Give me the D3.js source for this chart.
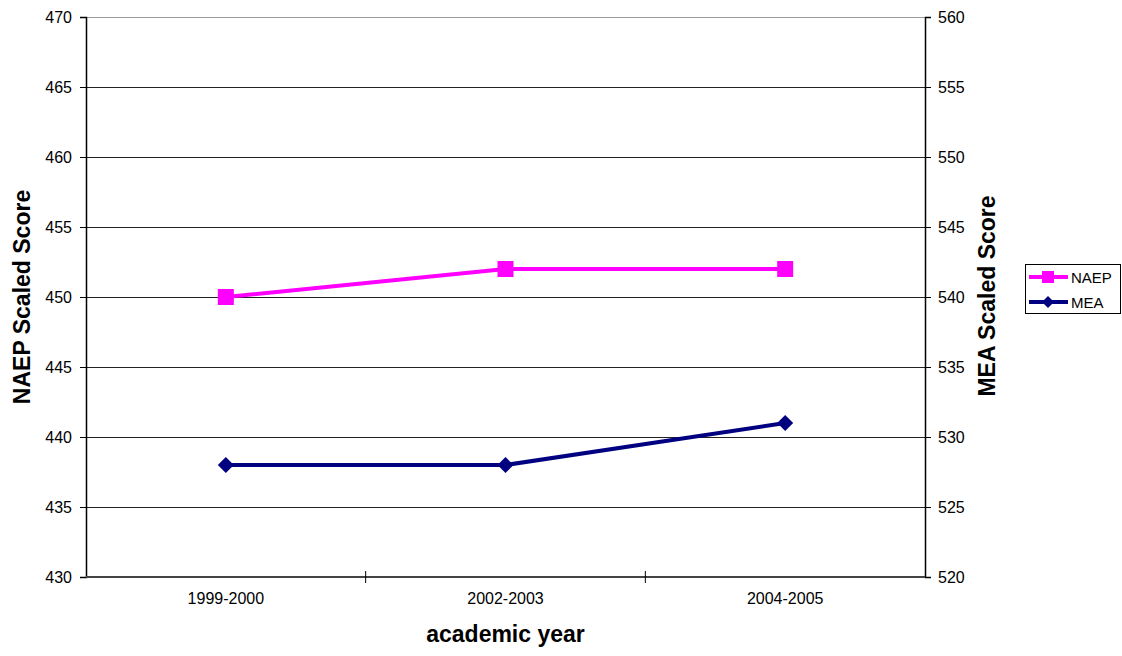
<!DOCTYPE html>
<html><head><meta charset="utf-8">
<script src="https://cdn.jsdelivr.net/npm/d3@7"></script>
<style>body{margin:0;background:#fff}svg{display:block;font-family:"Liberation Sans",Arial,sans-serif}</style>
</head><body>
<svg id="c" width="1122" height="656"></svg>
<script>
const categories = ["1999-2000", "2002-2003", "2004-2005"];
const naep = [450, 452, 452];
const mea = [528, 528, 531];
const leftTicks = [430,435,440,445,450,455,460,465,470];
const rightTicks = [520,525,530,535,540,545,550,555,560];

const svg = d3.select("#c");
const L = 86, R = 925, T = 17, B = 577;
const x = d3.scaleBand().domain(categories).range([L, R]);
const yL = d3.scaleLinear().domain([430, 470]).range([B, T]);
const yR = d3.scaleLinear().domain([520, 560]).range([B, T]);

// gridlines
svg.append("g").selectAll("line").data(leftTicks.slice(1)).join("line")
  .attr("x1", L).attr("x2", R).attr("y1", d => yL(d)+0.5).attr("y2", d => yL(d)+0.5)
  .attr("stroke", d => d === 470 ? "#999" : "#222").attr("stroke-width", 1);

// left axis
const gl = svg.append("g").attr("transform", `translate(${L},0)`)
  .call(d3.axisLeft(yL).tickValues(leftTicks).tickSize(6).tickPadding(8));
// right axis
const gr = svg.append("g").attr("transform", `translate(${R},0)`)
  .call(d3.axisRight(yR).tickValues(rightTicks).tickSize(6).tickPadding(7));
// bottom axis
const gb = svg.append("g").attr("transform", `translate(0,${B})`)
  .call(d3.axisBottom(x).tickSize(0).tickPadding(16));
[gl, gr, gb].forEach(g => {
  g.selectAll("text").attr("font-size", 16).attr("fill", "#000").attr("font-family", '"Liberation Sans",Arial,sans-serif');
  g.selectAll("line").attr("stroke", "#000");
  g.select(".domain").attr("stroke", "#000").attr("stroke-width", 1.5);
});
gb.select(".domain").attr("stroke", "#444").attr("stroke-width", 2).attr("d", `M${L},0H${R}`);
// bottom category separators
svg.append("g").selectAll("line").data(categories.slice(1)).join("line")
  .attr("x1", d => x(d)).attr("x2", d => x(d)).attr("y1", B-6).attr("y2", B+6)
  .attr("stroke", "#000");

// lines
const cx = d => x(d) + x.bandwidth()/2;
const lineL = d3.line().x((d,i) => cx(categories[i])).y(d => yL(d));
const lineR = d3.line().x((d,i) => cx(categories[i])).y(d => yR(d));
svg.append("path").attr("d", lineL(naep)).attr("fill", "none").attr("stroke", "#FF00FF").attr("stroke-width", 4);
svg.append("path").attr("d", lineR(mea)).attr("fill", "none").attr("stroke", "#000080").attr("stroke-width", 4);
svg.append("g").selectAll("rect").data(naep).join("rect")
  .attr("x", (d,i) => cx(categories[i]) - 8).attr("y", d => yL(d) - 8)
  .attr("width", 16).attr("height", 16).attr("fill", "#FF00FF");
svg.append("g").selectAll("path").data(mea).join("path")
  .attr("d", (d,i) => { const px = cx(categories[i]), py = yR(d); return `M${px},${py-8}L${px+8},${py}L${px},${py+8}L${px-8},${py}Z`; })
  .attr("fill", "#000080");

// axis titles
svg.append("text").attr("transform", `translate(29.5,297) rotate(-90)`).attr("text-anchor", "middle")
  .attr("font-size", 23).attr("font-weight", "bold").text("NAEP Scaled Score");
svg.append("text").attr("transform", `translate(995,296) rotate(-90)`).attr("text-anchor", "middle")
  .attr("font-size", 23).attr("font-weight", "bold").text("MEA Scaled Score");
svg.append("text").attr("x", (L+R)/2).attr("y", 642).attr("text-anchor", "middle")
  .attr("font-size", 23).attr("font-weight", "bold").text("academic year");

// legend
const lg = svg.append("g");
lg.append("rect").attr("x", 1025.5).attr("y", 264.5).attr("width", 95).attr("height", 49)
  .attr("fill", "#fff").attr("stroke", "#000").attr("stroke-width", 1);
const legendItems = [{name:"NAEP", color:"#FF00FF", shape:"square"}, {name:"MEA", color:"#000080", shape:"diamond"}];
legendItems.forEach((it, i) => {
  const yy = 277 + i*25;
  lg.append("line").attr("x1", 1029).attr("x2", 1068).attr("y1", yy).attr("y2", yy).attr("stroke", it.color).attr("stroke-width", 4);
  if (it.shape === "square") lg.append("rect").attr("x", 1042).attr("y", yy-6).attr("width", 12).attr("height", 12).attr("fill", it.color);
  else lg.append("path").attr("d", `M1048,${yy-6}L1054,${yy}L1048,${yy+6}L1042,${yy}Z`).attr("fill", it.color);
  lg.append("text").attr("x", 1071).attr("y", yy+5.5).attr("font-size", 15).text(it.name);
});
</script>
</body></html>
